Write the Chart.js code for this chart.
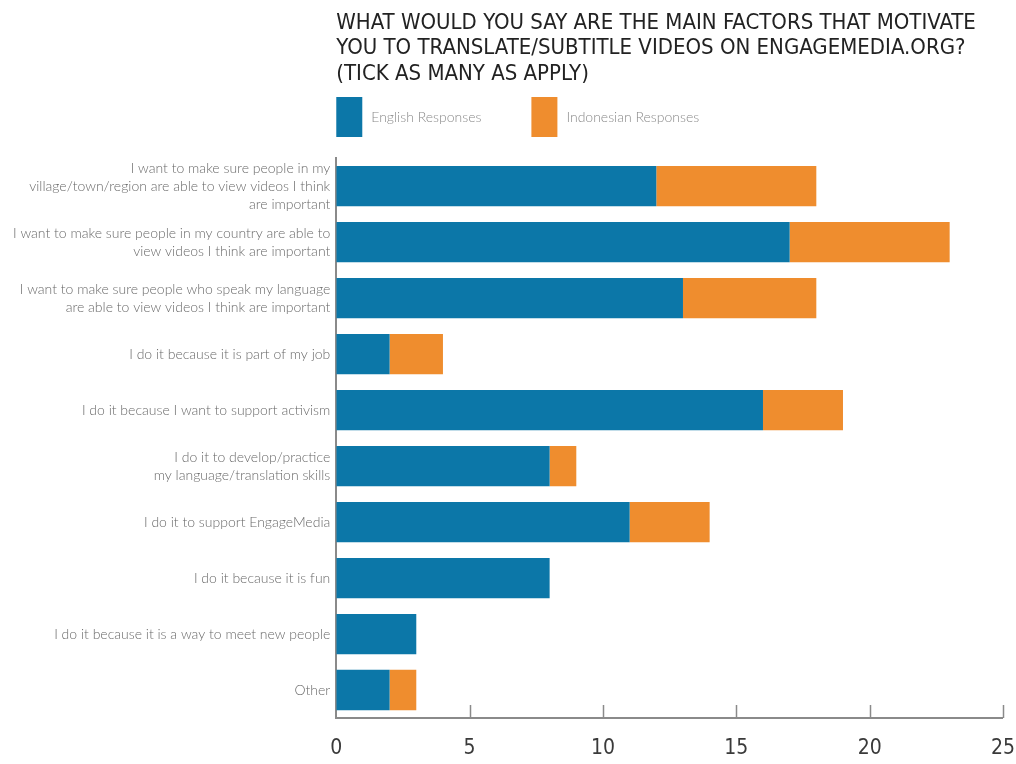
<!DOCTYPE html>
<html>
<head>
<meta charset="utf-8">
<script src="https://cdn.jsdelivr.net/npm/chart.js@4/dist/chart.umd.min.js"></script>
<style>
html,body{margin:0;padding:0;background:#fff;}
#wrap{position:relative;width:1016px;height:764px;}
</style>
</head>
<body>
<div id="wrap"><canvas id="c" width="1016" height="764"></canvas></div>
<script>
const categories = [
  ["I want to make sure people in my", "village/town/region are able to view videos I think", "are important"],
  ["I want to make sure people in my country are able to", "view videos I think are important"],
  ["I want to make sure people who speak my language", "are able to view videos I think are important"],
  "I do it because it is part of my job",
  "I do it because I want to support activism",
  ["I do it to develop/practice", "my language/translation skills"],
  "I do it to support EngageMedia",
  "I do it because it is fun",
  "I do it because it is a way to meet new people",
  "Other"
];
const englishResponses    = [12, 17, 13, 2, 16, 8, 11, 8, 3, 2];
const indonesianResponses = [ 6,  6,  5, 2,  3, 1,  3, 0, 0, 1];
const xTicks = [0, 5, 10, 15, 20, 25];
const titleLines = [
  "WHAT WOULD YOU SAY ARE THE MAIN FACTORS THAT MOTIVATE",
  "YOU TO TRANSLATE/SUBTITLE VIDEOS ON ENGAGEMEDIA.ORG?",
  "(TICK AS MANY AS APPLY)"
];

const FONT = "'DejaVu Sans Condensed', 'DejaVu Sans', sans-serif";
const LFONT = "Lato, 'Open Sans', sans-serif";

const innerTicks = {
  id: 'innerTicks',
  afterDatasetsDraw(chart) {
    const x = chart.scales.x, a = chart.chartArea, ctx = chart.ctx;
    ctx.save();
    ctx.strokeStyle = '#8a8a8a';
    ctx.lineWidth = 1.5;
    xTicks.forEach(v => {
      if (v === 0) return;
      const px = Math.round(x.getPixelForValue(v)) + 0.5;
      ctx.beginPath();
      ctx.moveTo(px, a.bottom);
      ctx.lineTo(px, a.bottom - 13);
      ctx.stroke();
    });
    ctx.restore();
  }
};

const boxLegend = {
  id: 'boxLegend',
  afterDraw(chart) {
    const ctx = chart.ctx, a = chart.chartArea;
    const top = 97, bw = 26, bh = 40, gapText = 9, gapItem = 50;
    let x = a.left;
    ctx.save();
    ctx.font = "300 14px " + LFONT;
    ctx.textBaseline = 'middle';
    ctx.textAlign = 'left';
    chart.data.datasets.forEach(ds => {
      ctx.fillStyle = ds.backgroundColor;
      ctx.fillRect(x, top, bw, bh);
      ctx.fillStyle = '#8a8a8a';
      const tx = x + bw + gapText;
      ctx.fillText(ds.label, tx, top + bh / 2);
      x = tx + ctx.measureText(ds.label).width + gapItem;
    });
    ctx.restore();
  }
};

new Chart(document.getElementById('c'), {
  type: 'bar',
  data: {
    labels: categories,
    datasets: [
      { label: 'English Responses', data: englishResponses, backgroundColor: '#0c77a8', borderWidth: 0 },
      { label: 'Indonesian Responses', data: indonesianResponses, backgroundColor: '#ef8d2e', borderWidth: 0 }
    ]
  },
  options: {
    indexAxis: 'y',
    responsive: false,
    animation: false,
    events: [],
    layout: { padding: { left: 7, right: 13, top: 6, bottom: 3 } },
    datasets: { bar: { categoryPercentage: 0.72, barPercentage: 1.0 } },
    scales: {
      x: {
        stacked: true,
        min: 0, max: 25,
        afterBuildTicks(s) { s.ticks = xTicks.map(v => ({ value: v })); },
        afterFit(s) { s.paddingRight = 0; s.paddingLeft = 0; s.height = 43; },
        grid: { display: true, drawOnChartArea: false, drawTicks: false, color: '#8a8a8a', lineWidth: 0 },
        border: { display: true, color: '#8a8a8a', width: 2 },
        ticks: { color: '#3a3a3a', font: { family: FONT, size: 21 }, padding: 18 }
      },
      y: {
        stacked: true,
        grid: { display: false, drawTicks: false },
        border: { display: true, color: '#8a8a8a', width: 2 },
        ticks: { autoSkip: false, color: '#6a6a6a', font: { family: LFONT, size: 14, weight: 300, lineHeight: 1.3 }, padding: 6 }
      }
    },
    plugins: {
      tooltip: { enabled: false },
      legend: { display: false },
      title: {
        display: true,
        text: titleLines,
        align: 'start',
        fullSize: false,
        color: '#222',
        font: { family: FONT, size: 22, weight: 'normal', lineHeight: 1.17 },
        padding: { top: 4, bottom: 71 }
      }
    }
  },
  plugins: [innerTicks, boxLegend]
});
</script>
</body>
</html>
